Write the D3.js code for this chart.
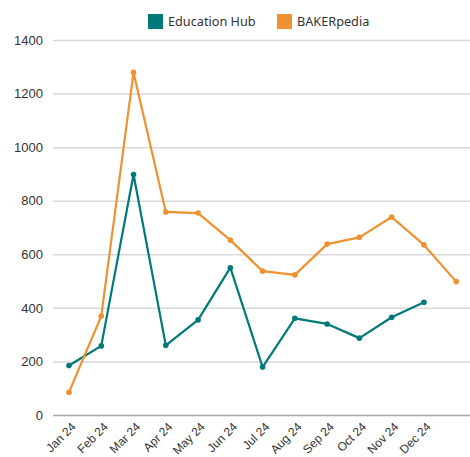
<!DOCTYPE html>
<html><head><meta charset="utf-8">
<script src="https://cdn.jsdelivr.net/npm/d3@7"></script>
<style>body{margin:0;background:#fff}svg{display:block;font-family:"Noto Sans",sans-serif}</style>
</head><body><svg id="c" width="470" height="457"></svg>
<script>
const categories = ["Jan 24","Feb 24","Mar 24","Apr 24","May 24","Jun 24","Jul 24","Aug 24","Sep 24","Oct 24","Nov 24","Dec 24",""];
const educationHub = [185,258,898,260,355,550,179,361,340,287,365,421];
const bakerpedia = [85,369,1279,758,754,653,537,523,638,663,739,635,498];
const yTicks = [0,200,400,600,800,1000,1200,1400];
const seriesNames = ["Education Hub","BAKERpedia"];
const colors = ["#00797a","#ee9130"];

const svg = d3.select("#c");
const x = d3.scalePoint().domain(categories).range([69, 69 + 12*32.27]);
const y = d3.scaleLinear().domain([0,1400]).range([415, 40]);

// grid
const gy = svg.append("g").attr("transform","translate(53,0)")
  .call(d3.axisLeft(y).tickValues(yTicks).tickSize(-417).tickFormat(d3.format("d")).tickPadding(10));
gy.select(".domain").remove();
gy.selectAll(".tick line").attr("stroke", d => d===0 ? "#a8a8a8" : "#d9d9d9").attr("stroke-width", 1.5);
gy.selectAll(".tick text").attr("fill","#333").attr("font-size",13);

// x axis labels
const gx = svg.append("g").attr("transform","translate(0,415)")
  .call(d3.axisBottom(x).tickSize(0).tickPadding(0));
gx.select(".domain").remove();
gx.selectAll(".tick text").attr("fill","#333").attr("font-size",12)
  .attr("text-anchor","end").attr("dy",0)
  .attr("transform","translate(7,12.5) rotate(-45)");

const data = [educationHub, bakerpedia];
data.forEach((vals,si)=>{
  const pts = vals.map((v,i)=>[x(categories[i]), y(v)]);
  svg.append("path").attr("d", d3.line()(pts)).attr("fill","none")
    .attr("stroke", colors[si]).attr("stroke-width",2.2).attr("stroke-linejoin","round");
  svg.append("g").selectAll("circle").data(pts).join("circle")
    .attr("cx",d=>d[0]).attr("cy",d=>d[1]).attr("r",2.8).attr("fill",colors[si]);
});

// legend
const legX = [148, 277];
seriesNames.forEach((n,i)=>{
  svg.append("rect").attr("x",legX[i]).attr("y",14).attr("width",15).attr("height",15).attr("fill",colors[i]);
  svg.append("text").attr("x",legX[i]+20).attr("y",26).attr("font-size",12.7).attr("fill","#333").text(n);
});
</script></body></html>
